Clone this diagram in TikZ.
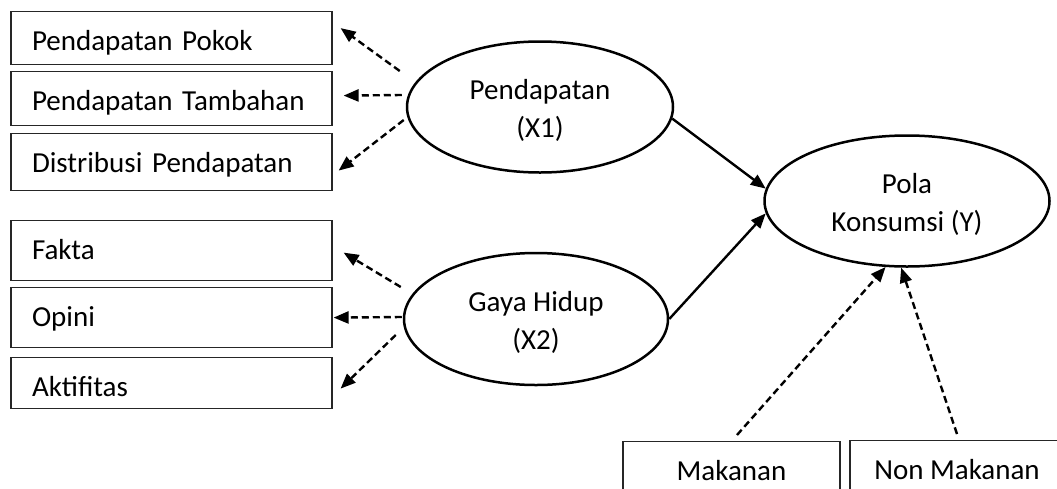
\documentclass[tikz,border=0pt]{standalone}
\usepackage{fontspec}
\setmainfont{Carlito}
\usetikzlibrary{arrows.meta, shapes.geometric}
\tikzset{
  indbox/.style={rectangle, draw=black!85, line width=1.2pt, anchor=north, minimum width=321pt,
                 text width=279pt, inner xsep=21pt, inner ysep=0pt, align=left,
                 text height=39pt, text depth=#1},
  latent/.style={ellipse, draw=black, line width=2.5pt, align=center, inner sep=0pt,
                 text height=61pt, text depth=0pt},
  botbox/.style={rectangle, draw=black!85, line width=1.2pt, anchor=north, align=center,
                 inner ysep=0pt, text height=39pt, text depth=30pt},
  causal/.style={-{Triangle[length=15pt, width=12pt]}, line width=2.4pt},
  reflect/.style={causal, dash pattern=on 7pt off 4pt},
}
\begin{document}
\begin{tikzpicture}[x=1pt, y=-1pt, font=\fontsize{29}{38}\selectfont]
  \useasboundingbox (0,0) rectangle (1057,488);
  % indikator
  \node[indbox=14pt] (pk) at (171.5,11)  {Pendapatan Pokok};
  \node[indbox=15pt] (pt) at (171.5,71)  {Pendapatan Tambahan};
  \node[indbox=18pt] (dp) at (171.5,133) {Distribusi Pendapatan};
  \node[indbox=21pt] (fk) at (171.5,220) {Fakta};
  \node[indbox=21pt] (op) at (171.5,287) {Opini};
  \node[indbox=12pt] (ak) at (171.5,357) {Aktifitas};
  % variabel
  \node[latent, minimum width=266pt, minimum height=131pt] (x1) at (540,107) {Pendapatan\\(X1)};
  \node[latent, minimum width=264pt, minimum height=132pt] (x2) at (536,319) {Gaya Hidup\\(X2)};
  \node[latent, minimum width=285pt, minimum height=131pt] (y)  at (907,201) {Pola\\Konsumsi (Y)};
  \node[botbox, minimum width=217pt] (mk) at (731.5,441) {Makanan};
  \node[botbox, minimum width=214pt] (nm) at (957,440)   {Non Makanan};
  % panah
  \draw[reflect] ([shift={(-6,-36)}]x1.west) -- ([shift={(8,-10)}]pk.east);
  \draw[reflect] ([shift={(-4,-12)}]x1.west) -- ([shift={(11,-3)}]pt.east);
  \draw[reflect] ([shift={(-2,13)}]x1.west)  -- ([shift={(6,8.5)}]dp.east);
  \draw[reflect] ([shift={(-2,-32)}]x2.west) -- ([shift={(11,2)}]fk.east);
  \draw[reflect] ([shift={(-1,-2)}]x2.west)  -- ([shift={(1,0)}]op.east);
  \draw[reflect] ([shift={(-7,16)}]x2.west)  -- ([shift={(8,5.5)}]ak.east);
  \draw[causal] (x1.-5) -- (y.175);
  \draw[causal] (x2.east) -- (y.185);
  \draw[reflect] ([shift={(5.5,-6)}]mk.north) -- (y.252);
  \draw[reflect] ([shift={(0,-6)}]nm.north) -- (y.265);
\end{tikzpicture}
\end{document}
